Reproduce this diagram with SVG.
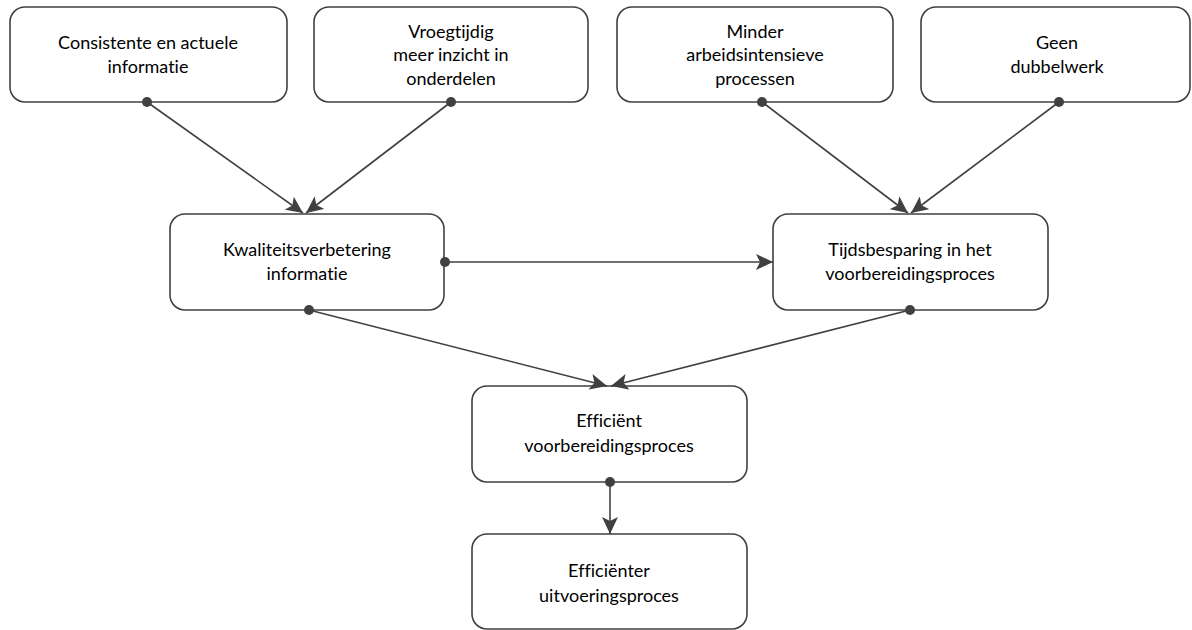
<svg xmlns="http://www.w3.org/2000/svg" width="1192" height="630" viewBox="0 0 1192 630">
<style>
.box{fill:#fff;stroke:#404040;stroke-width:1.6}
.t{font-family:Lato,"Liberation Sans",sans-serif;font-size:18px;fill:#000;text-anchor:middle;font-variant-ligatures:none}
.c{stroke:#404040;stroke-width:1.6;fill:none;marker-end:url(#ah)}
.d{fill:#404040}
</style>
<defs>
<marker id="ah" markerUnits="userSpaceOnUse" markerWidth="20" markerHeight="16" refX="17" refY="8" orient="auto">
<path d="M0,0 L17,8 L0,16 L4,8 Z" fill="#404040"/>
</marker>
</defs>
<rect width="1192" height="630" fill="#fff"/>
<g id="n1"><rect class="box" x="10" y="7" width="277" height="95" rx="15"/>
<text class="t" x="148" y="49">Consistente en actuele</text><text class="t" x="148" y="73">informatie</text></g>
<g id="n2"><rect class="box" x="314" y="7" width="274" height="95" rx="15"/>
<text class="t" x="451" y="38">Vroegtijdig</text><text class="t" x="451" y="61">meer inzicht in</text><text class="t" x="451" y="85">onderdelen</text></g>
<g id="n3"><rect class="box" x="617" y="7" width="276" height="95" rx="15"/>
<text class="t" x="755" y="38">Minder</text><text class="t" x="755" y="61">arbeidsintensieve</text><text class="t" x="755" y="85">processen</text></g>
<g id="n4"><rect class="box" x="921" y="7" width="269" height="95" rx="15"/>
<text class="t" x="1057" y="49">Geen</text><text class="t" x="1057" y="73">dubbelwerk</text></g>
<g id="n5"><rect class="box" x="170" y="214" width="274" height="96" rx="15"/>
<text class="t" x="307" y="256">Kwaliteitsverbetering</text><text class="t" x="307" y="280">informatie</text></g>
<g id="n6"><rect class="box" x="773" y="214" width="275" height="96" rx="15"/>
<text class="t" x="910" y="256">Tijdsbesparing in het</text><text class="t" x="910" y="280">voorbereidingsproces</text></g>
<g id="n7"><rect class="box" x="472" y="386" width="275" height="96" rx="15"/>
<text class="t" x="609" y="427">Efficiënt</text><text class="t" x="609" y="452">voorbereidingsproces</text></g>
<g id="n8"><rect class="box" x="472" y="534" width="275" height="95" rx="15"/>
<text class="t" x="609" y="577">Efficiënter</text><text class="t" x="609" y="602">uitvoeringsproces</text></g>
<g id="connectors">
<line class="c" x1="147" y1="102" x2="303" y2="213"/>
<line class="c" x1="451" y1="102" x2="306" y2="213"/>
<line class="c" x1="762" y1="102" x2="908" y2="213"/>
<line class="c" x1="1059" y1="102" x2="911" y2="213"/>
<line class="c" x1="445" y1="262" x2="773" y2="262"/>
<line class="c" x1="309" y1="310" x2="607" y2="386"/>
<line class="c" x1="910" y1="310" x2="611" y2="386"/>
<line class="c" x1="610" y1="482" x2="610" y2="534"/>
<circle class="d" cx="147" cy="102" r="5"/>
<circle class="d" cx="451" cy="102" r="5"/>
<circle class="d" cx="762" cy="102" r="5"/>
<circle class="d" cx="1059" cy="102" r="5"/>
<circle class="d" cx="445" cy="262" r="5"/>
<circle class="d" cx="309" cy="310" r="5"/>
<circle class="d" cx="910" cy="310" r="5"/>
<circle class="d" cx="610" cy="482" r="5"/>
</g>
</svg>
